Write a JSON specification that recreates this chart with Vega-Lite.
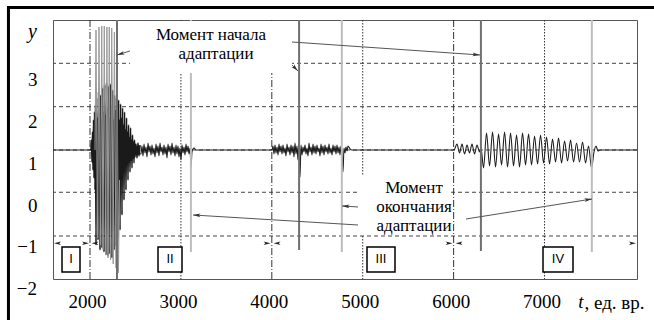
{
"$schema": "https://vega.github.io/schema/vega-lite/v6.json",
"width": 584, "height": 259,
"autosize": "none",
"padding": {"left": 53, "top": 20, "right": 17, "bottom": 41},
"background": "white",
"config": {"view": {"stroke": "#555", "strokeWidth": 1}, "axis": {"grid": false, "ticks": false, "domain": false}},
"datasets": {
"hgrid": [{"y":3.374},{"y":2.341},{"y":1.31},{"y":0.303},{"y":-0.738}],
"vgrid": [{"t":2000,"k":"dd"},{"t":4000,"k":"dd"},{"t":6000,"k":"dd"},{"t":3000,"k":"dot"},{"t":5000,"k":"dot"},{"t":7000,"k":"dot"}],
"sig": [
{"t":1593,"y":1.31},{"t":2000,"y":1.31},
{"t":2011,"y":1.31,"p":"b"},{"t":2017,"y":1.548,"p":"b"},{"t":2022,"y":1.024,"p":"b"},{"t":2028,"y":1.739,"p":"b"},{"t":2033,"y":0.834,"p":"b"},{"t":2039,"y":2.024,"p":"b"},{"t":2044,"y":0.643,"p":"b"},{"t":2050,"y":2.215,"p":"b"},{"t":2055,"y":0.358,"p":"b"},{"t":2061,"y":2.381,"p":"b"},{"t":2066,"y":-0.952,"p":"b"},{"t":2072,"y":2.548,"p":"b"},{"t":2077,"y":0.477,"p":"b"},{"t":2083,"y":2.072,"p":"b"},{"t":2088,"y":-0.833,"p":"b"},{"t":2094,"y":2.691,"p":"b"},{"t":2099,"y":0.358,"p":"b"},{"t":2105,"y":2.262,"p":"b"},{"t":2110,"y":-1.071,"p":"b"},{"t":2116,"y":2.62,"p":"b"},{"t":2121,"y":0.524,"p":"b"},{"t":2127,"y":2.024,"p":"b"},{"t":2132,"y":-1.024,"p":"b"},{"t":2138,"y":2.786,"p":"b"},{"t":2143,"y":0.453,"p":"b"},{"t":2149,"y":2.215,"p":"b"},{"t":2154,"y":-1.119,"p":"b"},{"t":2160,"y":2.858,"p":"b"},{"t":2165,"y":0.596,"p":"b"},{"t":2171,"y":2.143,"p":"b"},{"t":2176,"y":-1.19,"p":"b"},{"t":2182,"y":2.905,"p":"b"},{"t":2187,"y":0.5,"p":"b"},{"t":2193,"y":2.31,"p":"b"},{"t":2198,"y":-1.214,"p":"b"},{"t":2204,"y":2.834,"p":"b"},{"t":2209,"y":0.643,"p":"b"},{"t":2215,"y":2.072,"p":"b"},{"t":2220,"y":-1.167,"p":"b"},{"t":2226,"y":2.881,"p":"b"},{"t":2231,"y":0.572,"p":"b"},{"t":2237,"y":2.381,"p":"b"},{"t":2242,"y":-1.262,"p":"b"},{"t":2248,"y":2.739,"p":"b"},{"t":2253,"y":0.691,"p":"b"},{"t":2259,"y":2.024,"p":"b"},{"t":2264,"y":-1.071,"p":"b"},{"t":2270,"y":2.62,"p":"b"},{"t":2275,"y":0.643,"p":"b"},{"t":2281,"y":2.262,"p":"b"},{"t":2286,"y":-0.976,"p":"b"},{"t":2292,"y":2.548,"p":"b"},{"t":2297,"y":0.715,"p":"b"},{"t":2303,"y":2.143,"p":"b"},{"t":2308,"y":-0.786,"p":"b"},{"t":2314,"y":2.5,"p":"b"},{"t":2319,"y":0.786,"p":"b"},{"t":2325,"y":2.024,"p":"b"},{"t":2330,"y":-0.595,"p":"b"},{"t":2336,"y":2.405,"p":"b"},{"t":2341,"y":0.834,"p":"b"},{"t":2347,"y":2.072,"p":"b"},{"t":2352,"y":-0.238,"p":"b"},{"t":2358,"y":2.31,"p":"b"},{"t":2363,"y":0.881,"p":"b"},{"t":2369,"y":1.905,"p":"b"},{"t":2374,"y":0.12,"p":"b"},{"t":2380,"y":2.215,"p":"b"},{"t":2385,"y":0.929,"p":"b"},{"t":2391,"y":1.786,"p":"b"},{"t":2396,"y":0.358,"p":"b"},{"t":2402,"y":2.072,"p":"b"},{"t":2407,"y":0.977,"p":"b"},{"t":2413,"y":1.739,"p":"b"},{"t":2418,"y":0.596,"p":"b"},{"t":2424,"y":1.905,"p":"b"},{"t":2429,"y":1.024,"p":"b"},{"t":2435,"y":1.596,"p":"b"},{"t":2440,"y":0.786,"p":"b"},{"t":2446,"y":1.834,"p":"b"},{"t":2451,"y":1.072,"p":"b"},{"t":2457,"y":1.548,"p":"b"},{"t":2462,"y":0.881,"p":"b"},{"t":2468,"y":1.667,"p":"b"},{"t":2473,"y":1.12,"p":"b"},{"t":2479,"y":1.5,"p":"b"},{"t":2484,"y":1.0,"p":"b"},{"t":2490,"y":1.548,"p":"b"},{"t":2495,"y":1.143,"p":"b"},{"t":2506,"y":1.453,"p":"b"},{"t":2517,"y":1.12,"p":"b"},{"t":2528,"y":1.477,"p":"b"},{"t":2539,"y":1.167,"p":"b"},{"t":2550,"y":1.429,"p":"b"},
{"t":2561,"y":1.215},{"t":2572,"y":1.405},{"t":2583,"y":1.167},{"t":2594,"y":1.453},{"t":2605,"y":1.239},{"t":2616,"y":1.381},{"t":2627,"y":1.143},{"t":2638,"y":1.477},{"t":2649,"y":1.262},{"t":2660,"y":1.405},{"t":2671,"y":1.191},{"t":2682,"y":1.429},{"t":2693,"y":1.215},{"t":2704,"y":1.358},{"t":2715,"y":1.143},{"t":2726,"y":1.453},{"t":2737,"y":1.239},{"t":2748,"y":1.405},{"t":2759,"y":1.167},{"t":2770,"y":1.477},{"t":2781,"y":1.262},{"t":2792,"y":1.381},{"t":2803,"y":1.191},{"t":2814,"y":1.429},{"t":2825,"y":1.215},{"t":2836,"y":1.381},{"t":2847,"y":1.12},{"t":2858,"y":1.453},{"t":2869,"y":1.262},{"t":2880,"y":1.405},{"t":2891,"y":1.191},{"t":2902,"y":1.477},{"t":2913,"y":1.239},{"t":2924,"y":1.381},{"t":2935,"y":1.167},{"t":2946,"y":1.429},{"t":2957,"y":1.215},{"t":2968,"y":1.405},{"t":2979,"y":1.143},{"t":2990,"y":1.358},{"t":3001,"y":1.072},{"t":3012,"y":1.429},{"t":3023,"y":1.239},{"t":3034,"y":1.381},{"t":3045,"y":1.191},{"t":3056,"y":1.453},{"t":3067,"y":1.262},{"t":3078,"y":1.405},{"t":3089,"y":1.215},{"t":3100,"y":1.358},{"t":3111,"y":0.905},{"t":3122,"y":1.262},{"t":3133,"y":1.334},{"t":3144,"y":1.358},{"t":3166,"y":1.31},
{"t":4002,"y":1.31},{"t":4013,"y":1.405},{"t":4024,"y":1.215},{"t":4035,"y":1.429},{"t":4046,"y":1.239},{"t":4057,"y":1.381},{"t":4068,"y":1.191},{"t":4079,"y":1.453},{"t":4090,"y":1.262},{"t":4101,"y":1.405},{"t":4112,"y":1.215},{"t":4123,"y":1.429},{"t":4134,"y":1.239},{"t":4145,"y":1.358},{"t":4156,"y":1.167},{"t":4167,"y":1.453},{"t":4178,"y":1.262},{"t":4189,"y":1.381},{"t":4200,"y":1.191},{"t":4211,"y":1.429},{"t":4222,"y":1.239},{"t":4233,"y":1.405},{"t":4244,"y":1.143},{"t":4255,"y":1.477},{"t":4266,"y":1.215},{"t":4277,"y":1.405},{"t":4288,"y":1.072},{"t":4299,"y":1.5},{"t":4310,"y":0.667},{"t":4321,"y":1.429},{"t":4332,"y":1.191},{"t":4343,"y":1.381},{"t":4354,"y":1.262},{"t":4365,"y":1.429},{"t":4376,"y":1.215},{"t":4387,"y":1.358},{"t":4398,"y":1.167},{"t":4409,"y":1.477},{"t":4420,"y":1.262},{"t":4431,"y":1.381},{"t":4442,"y":1.191},{"t":4453,"y":1.453},{"t":4464,"y":1.239},{"t":4475,"y":1.405},{"t":4486,"y":1.215},{"t":4497,"y":1.429},{"t":4508,"y":1.262},{"t":4519,"y":1.358},{"t":4530,"y":1.167},{"t":4541,"y":1.453},{"t":4552,"y":1.239},{"t":4563,"y":1.405},{"t":4574,"y":1.191},{"t":4585,"y":1.429},{"t":4596,"y":1.262},{"t":4607,"y":1.381},{"t":4618,"y":1.215},{"t":4629,"y":1.453},{"t":4640,"y":1.239},{"t":4651,"y":1.358},{"t":4662,"y":1.191},{"t":4673,"y":1.429},{"t":4684,"y":1.262},{"t":4695,"y":1.405},{"t":4706,"y":1.215},{"t":4717,"y":1.429},{"t":4728,"y":1.239},{"t":4739,"y":1.381},{"t":4750,"y":1.191},{"t":4761,"y":1.405},{"t":4772,"y":1.262},{"t":4783,"y":0.786},{"t":4794,"y":1.358},{"t":4805,"y":1.239},{"t":4816,"y":1.381},{"t":4827,"y":1.286},{"t":4838,"y":1.405},{"t":4860,"y":1.334},{"t":4882,"y":1.31},
{"t":6004,"y":1.31},{"t":6037,"y":1.453},{"t":6065,"y":1.239},{"t":6092,"y":1.453},{"t":6120,"y":1.215},{"t":6147,"y":1.429},{"t":6175,"y":1.239},{"t":6202,"y":1.453},{"t":6230,"y":1.215},{"t":6257,"y":1.429},{"t":6285,"y":1.262},{"t":6301,"y":1.358},{"t":6329,"y":0.881},{"t":6362,"y":1.715},{"t":6395,"y":0.929},{"t":6428,"y":1.739},{"t":6461,"y":0.905},{"t":6494,"y":1.691},{"t":6527,"y":0.953},{"t":6560,"y":1.739},{"t":6593,"y":0.905},{"t":6626,"y":1.715},{"t":6659,"y":0.929},{"t":6692,"y":1.667},{"t":6725,"y":0.905},{"t":6758,"y":1.715},{"t":6791,"y":0.953},{"t":6824,"y":1.691},{"t":6857,"y":0.953},{"t":6890,"y":1.643},{"t":6923,"y":0.977},{"t":6956,"y":1.667},{"t":6989,"y":1.0},{"t":7022,"y":1.62},{"t":7055,"y":0.977},{"t":7088,"y":1.572},{"t":7121,"y":1.024},{"t":7154,"y":1.596},{"t":7187,"y":1.0},{"t":7220,"y":1.524},{"t":7253,"y":1.048},{"t":7286,"y":1.548},{"t":7319,"y":1.024},{"t":7352,"y":1.477},{"t":7385,"y":1.024},{"t":7418,"y":1.5},{"t":7451,"y":1.0},{"t":7484,"y":1.405},{"t":7517,"y":0.881},{"t":7544,"y":1.262},{"t":7566,"y":1.405},{"t":7588,"y":1.286},{"t":7610,"y":1.31},{"t":8017,"y":1.31}
],
"gray": [{"t":2055,"y":1.31},{"t":2066,"y":4.167},{"t":2083,"y":-0.786},{"t":2099,"y":4.238},{"t":2116,"y":-0.952},{"t":2129,"y":4.262},{"t":2143,"y":-1.071},{"t":2157,"y":4.262},{"t":2173,"y":-1.19},{"t":2186,"y":4.238},{"t":2198,"y":-1.262},{"t":2212,"y":4.238},{"t":2226,"y":-1.31},{"t":2239,"y":4.215},{"t":2255,"y":-1.405},{"t":2268,"y":4.12},{"t":2286,"y":-1.5},{"t":2297,"y":3.453},{"t":2313,"y":-1.619},{"t":2325,"y":0.596}],
"markers": [{"t":2297,"kind":"start","y":4.405,"y2":-1.762},{"t":4300,"kind":"start","y":4.405,"y2":-1.071},{"t":6300,"kind":"start","y":4.405,"y2":-1.095},{"t":3110,"kind":"end","y":4.405,"y2":-1.119},{"t":4770,"kind":"end","y":4.405,"y2":-1.119},{"t":7520,"kind":"end","y":4.405,"y2":-1.119}],
"bg": [{"t":2440,"t2":4222,"y":4.38,"y2":3.143},{"t":4948,"t2":5960,"y":0.715,"y2":-0.714}],
"texts": [{"t":3331,"y":3.929,"label":"Момент начала"},{"t":3386,"y":3.476,"label":"адаптации"},{"t":5564,"y":0.286,"label":"Момент"},{"t":5564,"y":-0.166,"label":"окончания"},{"t":5564,"y":-0.619,"label":"адаптации"}],
"arrows": [{"t":2440,"y":3.667,"t2":2297,"y2":3.572,"a":253},{"t":4222,"y":3.881,"t2":6290,"y2":3.572,"a":94},{"t":4222,"y":3.334,"t2":4288,"y2":3.191,"a":135},{"t":4948,"y":-0.476,"t2":3133,"y2":-0.238,"a":273.5},{"t":4948,"y":-0.047,"t2":4772,"y2":-0.023,"a":273.6},{"t":6136,"y":-0.333,"t2":7522,"y2":0.143,"a":81}],
"segarrows": [{"t":1604,"a":270},{"t":1989,"a":90},{"t":2017,"a":270},{"t":3986,"a":90},{"t":4019,"a":270},{"t":5988,"a":90},{"t":6021,"a":270},{"t":8006,"a":90}],
"boxes": [{"t":1692,"t2":1890,"tc":1791,"label":"I"},{"t":2748,"t2":3012,"tc":2880,"label":"II"},{"t":5047,"t2":5355,"tc":5201,"label":"III"},{"t":6983,"t2":7313,"tc":7148,"label":"IV"}],
"frame": [{"t":1103,"t2":8600,"y":4.703,"y2":-3.6}],
"tlabel": [{"t":7401,"y":-2.452,"label":"t"}],
"ylow": [{"t":1417,"y":-2,"label":"−2"}]
},
"layer": [
{"data":{"name":"hgrid"},"mark":{"type":"rule","color":"#444","strokeWidth":1,"strokeDash":[4,3]},"encoding":{"y":{"field":"y","type":"quantitative"}}},
{"data":{"name":"vgrid"},"transform":[{"filter":"datum.k==='dd'"}],"mark":{"type":"rule","color":"#333","strokeWidth":1,"strokeDash":[7,2,1,2]},"encoding":{"x":{"field":"t","type":"quantitative"}}},
{"data":{"name":"vgrid"},"transform":[{"filter":"datum.k==='dot'"}],"mark":{"type":"rule","color":"#333","strokeWidth":1,"strokeDash":[1.5,1.5]},"encoding":{"x":{"field":"t","type":"quantitative"}}},
{"data":{"name":"sig"},"transform":[{"filter":"datum.p!=='b'"}],"mark":{"type":"line","color":"#1e1e1e","strokeWidth":1.1,"interpolate":"monotone"},
 "encoding":{
  "x":{"field":"t","type":"quantitative","scale":{"domain":[1593,8017],"nice":false,"zero":false},
   "axis":{"values":[2000,3000,4000,5000,6000,7000],"format":"d","ticks":false,"domain":false,"grid":false,"labelPadding":13,"labelOffset":-3,"labelFont":"'Liberation Serif', 'DejaVu Serif', serif","labelFontSize":19,"labelColor":"black","labelOverlap":false,"title":", ед. вр.","titleX":531,"titleY":29,"titleAlign":"left","titleBaseline":"alphabetic","titleFont":"'Liberation Serif', 'DejaVu Serif', serif","titleFontSize":19,"titleFontWeight":"normal","titleColor":"black"}},
  "y":{"field":"y","type":"quantitative","scale":{"domain":[-1.762,4.405],"nice":false,"zero":false},
   "axis":{"values":[-1,0,1,2,3],"ticks":false,"domain":false,"grid":false,"labelPadding":16,"labelFont":"'Liberation Serif', 'DejaVu Serif', serif","labelFontSize":19,"labelColor":"black","labelOverlap":false,"title":"y","titleAngle":0,"titleX":-21,"titleY":17,"titleAlign":"center","titleBaseline":"alphabetic","titleFont":"'Liberation Serif', 'DejaVu Serif', serif","titleFontSize":20,"titleFontStyle":"italic","titleFontWeight":"normal","titleColor":"black"}}
 }},
{"data":{"name":"sig"},"transform":[{"filter":"datum.p==='b'"}],"mark":{"type":"line","color":"#1a1a1a","strokeWidth":1.6,"interpolate":"monotone"},"encoding":{"x":{"field":"t","type":"quantitative"},"y":{"field":"y","type":"quantitative"}}},
{"data":{"name":"gray"},"mark":{"type":"line","color":"#9a9a9a","strokeWidth":1},"encoding":{"x":{"field":"t","type":"quantitative"},"y":{"field":"y","type":"quantitative"}}},
{"data":{"name":"markers"},"mark":{"type":"rule","strokeWidth":2},"encoding":{"x":{"field":"t","type":"quantitative"},"y":{"field":"y","type":"quantitative"},"y2":{"field":"y2"},"color":{"field":"kind","type":"nominal","scale":{"domain":["start","end"],"range":["#707070","#bdbdbd"]},"legend":null}}},
{"data":{"name":"bg"},"mark":{"type":"rect","fill":"white","stroke":null},"encoding":{"x":{"field":"t","type":"quantitative"},"x2":{"field":"t2"},"y":{"field":"y","type":"quantitative"},"y2":{"field":"y2"}}},
{"data":{"name":"texts"},"mark":{"type":"text","font":"'Liberation Serif', 'DejaVu Serif', serif","fontSize":17,"color":"black","align":"center","baseline":"alphabetic"},"encoding":{"x":{"field":"t","type":"quantitative"},"y":{"field":"y","type":"quantitative"},"text":{"field":"label"}}},
{"data":{"name":"arrows"},"mark":{"type":"rule","color":"#555","strokeWidth":1},"encoding":{"x":{"field":"t","type":"quantitative"},"y":{"field":"y","type":"quantitative"},"x2":{"field":"t2"},"y2":{"field":"y2"}}},
{"data":{"name":"arrows"},"mark":{"type":"point","shape":"M0,0L0.45,1.8L0,1.35L-0.45,1.8Z","filled":true,"color":"#333","size":70,"opacity":1},"encoding":{"x":{"field":"t2","type":"quantitative"},"y":{"field":"y2","type":"quantitative"},"angle":{"field":"a","type":"quantitative","scale":null}}},
{"mark":{"type":"rule","color":"#222","strokeWidth":1},"encoding":{"y":{"datum":-0.911,"type":"quantitative"}}},
{"data":{"name":"segarrows"},"mark":{"type":"point","shape":"M0,0L0.45,1.8L0,1.35L-0.45,1.8Z","filled":true,"color":"#222","size":60,"opacity":1},"encoding":{"x":{"field":"t","type":"quantitative"},"y":{"datum":-0.911,"type":"quantitative"},"angle":{"field":"a","type":"quantitative","scale":null}}},
{"data":{"name":"boxes"},"mark":{"type":"rect","fill":"white","stroke":"black","strokeWidth":1.5},"encoding":{"x":{"field":"t","type":"quantitative"},"x2":{"field":"t2"},"y":{"datum":-1.0,"type":"quantitative"},"y2":{"datum":-1.595}}},
{"data":{"name":"boxes"},"mark":{"type":"text","font":"Liberation Sans","fontSize":13,"color":"black","align":"center","baseline":"middle"},"encoding":{"x":{"field":"tc","type":"quantitative"},"y":{"datum":-1.297,"type":"quantitative"},"text":{"field":"label"}}},
{"data":{"name":"frame"},"mark":{"type":"rect","fill":"white","fillOpacity":0,"stroke":"black","strokeWidth":3},"encoding":{"x":{"field":"t","type":"quantitative"},"x2":{"field":"t2"},"y":{"field":"y","type":"quantitative"},"y2":{"field":"y2"}}},
{"data":{"name":"tlabel"},"mark":{"type":"text","font":"'Liberation Serif', 'DejaVu Serif', serif","fontSize":19,"fontStyle":"italic","color":"black","align":"center","baseline":"alphabetic"},"encoding":{"x":{"field":"t","type":"quantitative"},"y":{"field":"y","type":"quantitative"},"text":{"field":"label"}}},
{"data":{"name":"ylow"},"mark":{"type":"text","font":"'Liberation Serif', 'DejaVu Serif', serif","fontSize":19,"color":"black","align":"right","baseline":"middle"},"encoding":{"x":{"field":"t","type":"quantitative"},"y":{"field":"y","type":"quantitative"},"text":{"field":"label"}}}
]
}
